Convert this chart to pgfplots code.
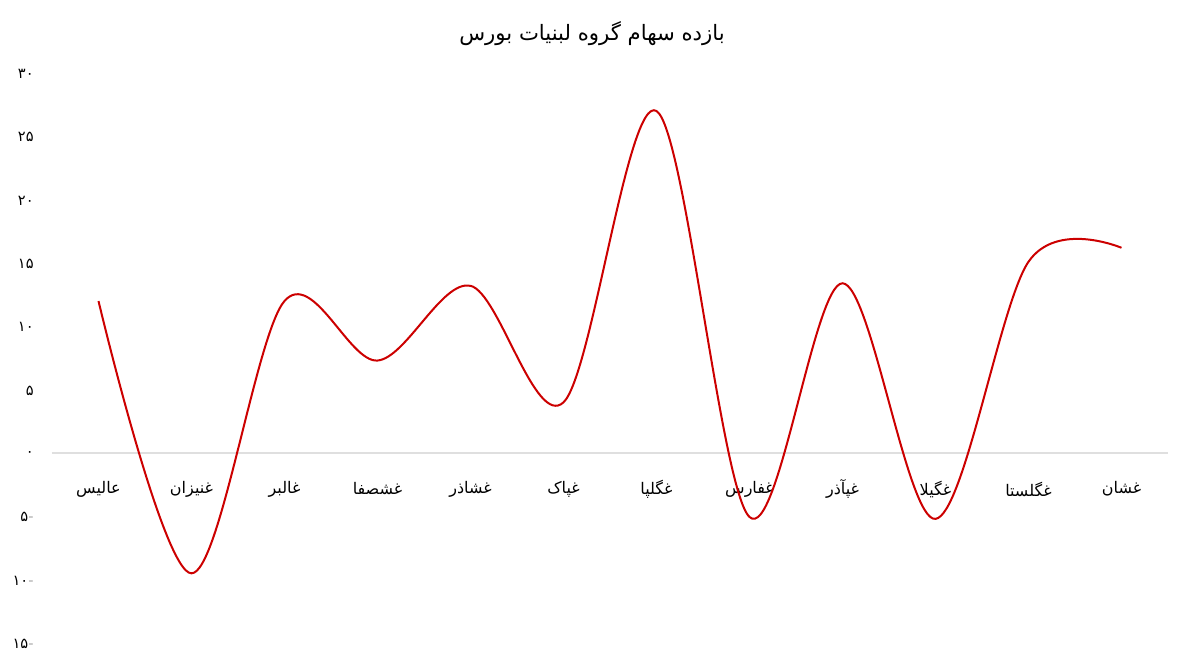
\documentclass[border=0pt]{standalone}
\usepackage{fontspec}
\usepackage{pgfplots}
\pgfplotsset{compat=1.18}
\setmainfont{DejaVu Sans}
\newfontfamily\arabicfont[Script=Arabic]{DejaVu Sans}
\TeXXeTstate=1
\newcommand\fa[1]{{\arabicfont\beginR #1\endR}}
\newcommand\negnum[1]{{\arabicfont #1}{\color{gray!70}-}}
\definecolor{lineRed}{RGB}{204,0,0}
\begin{document}
\begin{tikzpicture}
\useasboundingbox (-26pt,-11pt) rectangle (564.5pt,321.5pt);
\begin{axis}[
  at={(0,0)}, anchor=south west,
  width=558pt, height=285pt, scale only axis,
  xmin=-0.5, xmax=11.5, ymin=-15, ymax=30,
  clip=false,
  axis x line=middle, axis y line=left,
  x axis line style={-, draw=gray!25, line width=0.6pt},
  y axis line style={draw=none},
  major tick length=0pt,
  xtick={0,...,11},
  xticklabels={\fa{عالیس},\fa{غنیزان},\fa{غالبر},\fa{غشصفا},\fa{غشاذر},\fa{غپاک},\fa{غگلپا},\fa{غفارس},\fa{غپآذر},\fa{غگیلا},\fa{غگلستا},\fa{غشان}},
  xticklabel style={font=\fontsize{8}{10}\selectfont, anchor=center, yshift=-18pt},
  ytick={-15,-10,-5,0,5,10,15,20,25,30},
  yticklabels={\negnum{۱۵},\negnum{۱۰},\negnum{۵},{\arabicfont ۰},{\arabicfont ۵},{\arabicfont ۱۰},{\arabicfont ۱۵},{\arabicfont ۲۰},{\arabicfont ۲۵},{\arabicfont ۳۰}},
  yticklabel style={font=\fontsize{7.3}{9}\selectfont, anchor=east, inner sep=0pt, xshift=-9pt, yshift=-0.5pt},
  title={{\arabicfont\beginR بازده سهام گروه لبنیات بورس\endR}},
  title style={font=\fontsize{10.6}{12}\selectfont, anchor=center, at={(0.5,1)}, yshift=13.5pt, xshift=-9pt},
]
\addplot[smooth, tension=0.55, color=lineRed, line width=1pt] coordinates {
  (0,12.0) (1,-9.5) (2,12.0) (3,7.3) (4,13.2) (5,4.0)
  (6,27.0) (7,-5.05) (8,13.4) (9,-5.2) (10,15.1) (11,16.2)
};
\end{axis}
\end{tikzpicture}
\end{document}
